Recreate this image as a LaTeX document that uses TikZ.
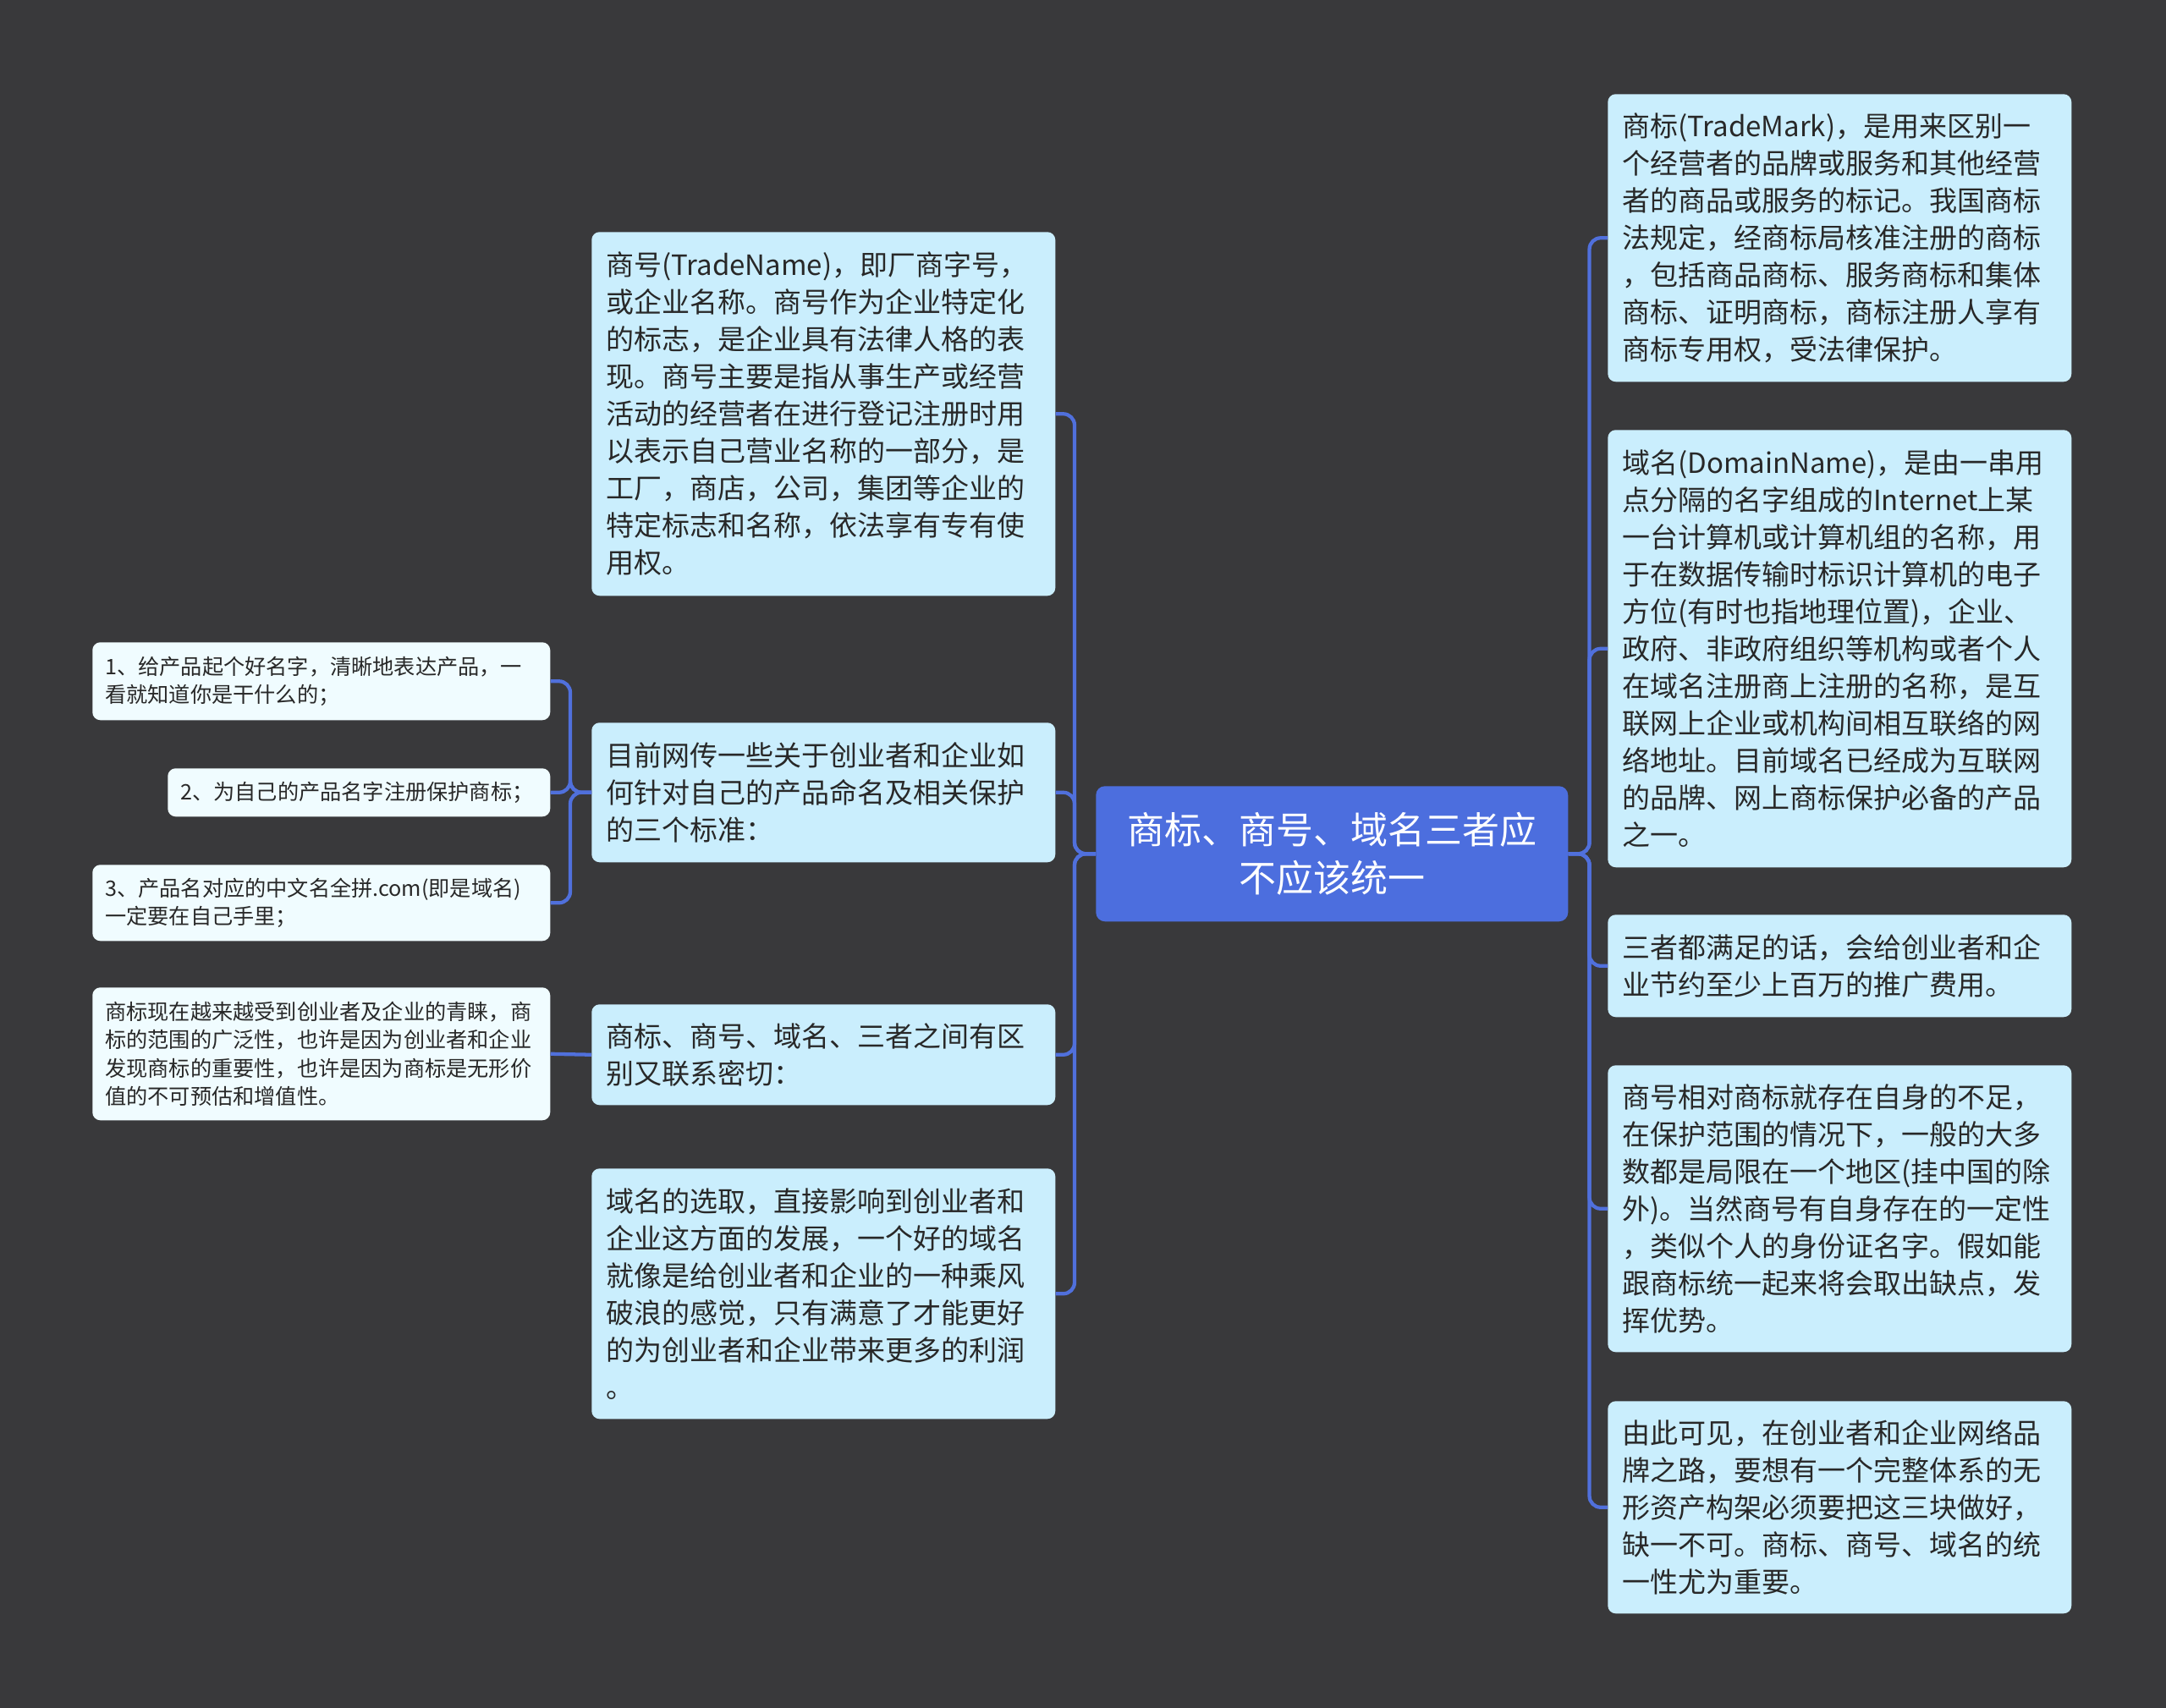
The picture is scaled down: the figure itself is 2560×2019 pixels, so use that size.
\documentclass[tikz,border=0pt]{standalone}
\usepackage{fontspec}
\setmainfont{Noto Sans CJK SC}
\definecolor{bg}{RGB}{57,57,59}
\definecolor{cfill}{RGB}{76,110,222}
\definecolor{lfill}{RGB}{202,238,253}
\definecolor{wfill}{RGB}{240,252,255}
\definecolor{conncol}{RGB}{80,112,220}
\definecolor{txt}{RGB}{40,40,40}
\tikzset{
  conn/.style={draw=conncol, line width=3.2pt, rounded corners=10pt},
  bigbox/.style={rectangle, rounded corners=7pt, fill=lfill, anchor=north west, inner xsep=12.75pt, inner ysep=0pt,
    minimum width=411pt, text width=385.5pt, align=left, text=txt, font=\fontsize{24.75pt}{33pt}\selectfont},
  smallbox/.style={rectangle, rounded corners=7pt, fill=wfill, anchor=north west, inner xsep=11.25pt, inner ysep=0pt,
    minimum width=405.75pt, text width=383.25pt, align=left, text=txt, font=\fontsize{18.9pt}{24.9pt}\selectfont},
  centerbox/.style={rectangle, rounded corners=8pt, fill=cfill, anchor=north west, inner sep=0pt,
    minimum width=418.5pt, minimum height=120pt, align=center, text=white, font=\fontsize{33pt}{43pt}\selectfont}
}
\begin{document}
\begin{tikzpicture}[x=0.75pt, y=-0.75pt]
\useasboundingbox (0,0) rectangle (2560,2019);
\fill[bg] (0,0) rectangle (2560,2019);

% central
\node[centerbox] (c) at (1295,929) {商标、商号、域名三者应\\不应该统一};

% left level 1
\node[bigbox, minimum height=322.5pt] (L1) at (699,274) {商号(TradeName)，即厂商字号，\\或企业名称。商号作为企业特定化\\的标志，是企业具有法律人格的表\\现。商号主要是指从事生产或经营\\活动的经营者在进行登记注册时用\\以表示自己营业名称的一部分，是\\工厂，商店，公司，集团等企业的\\特定标志和名称，依法享有专有使\\用权。};
\node[bigbox, minimum height=123.75pt] (L2) at (699,854) {目前网传一些关于创业者和企业如\\何针对自己的产品命名及相关保护\\的三个标准：};
\node[bigbox, minimum height=89.25pt] (L3) at (699,1187) {商标、商号、域名、三者之间有区\\别又联系密切：};
\node[bigbox, minimum height=222pt] (L4) at (699,1381) {域名的选取，直接影响到创业者和\\企业这方面的发展，一个好的域名\\就像是给创业者和企业的一种乘风\\破浪的感觉，只有满意了才能更好\\的为创业者和企业带来更多的利润\\。};

% left level 2
\node[smallbox, minimum height=69pt] (n1) at (109,759) {1、给产品起个好名字，清晰地表达产品，一\\看就知道你是干什么的；};
\node[smallbox, minimum width=339pt, text width=316.5pt, minimum height=42.75pt] (n2) at (198,908) {2、为自己的产品名字注册保护商标；};
\node[smallbox, minimum height=67.5pt] (n3) at (109,1022) {3、产品名对应的中文名全拼.com(即是域名)\\一定要在自己手里；};
\node[smallbox, minimum height=117.75pt] (n4) at (109,1167) {商标现在越来越受到创业者及企业的青睐，商\\标的范围的广泛性，也许是因为创业者和企业\\发现商标的重要性，也许是因为商标是无形价\\值的不可预估和增值性。};

% right
\node[bigbox, minimum height=255pt] (R1) at (1900,111) {商标(TradeMark)，是用来区别一\\个经营者的品牌或服务和其他经营\\者的商品或服务的标记。我国商标\\法规定，经商标局核准注册的商标\\，包括商品商标、服务商标和集体\\商标、证明商标，商标注册人享有\\商标专用权，受法律保护。};
\node[bigbox, minimum height=387.75pt] (R2) at (1900,508) {域名(DomainName)，是由一串用\\点分隔的名字组成的Internet上某\\一台计算机或计算机组的名称，用\\于在数据传输时标识计算机的电子\\方位(有时也指地理位置)，企业、\\政府、非政府组织等机构或者个人\\在域名注册商上注册的名称，是互\\联网上企业或机构间相互联络的网\\络地址。目前域名已经成为互联网\\的品牌、网上商标保护必备的产品\\之一。};
\node[bigbox, minimum height=90.75pt] (R3) at (1900,1081) {三者都满足的话，会给创业者和企\\业节约至少上百万的推广费用。};
\node[bigbox, minimum height=254.25pt] (R4) at (1900,1259) {商号相对商标就存在自身的不足，\\在保护范围的情况下，一般的大多\\数都是局限在一个地区(挂中国的除\\外)。当然商号有自身存在的一定性\\，类似个人的身份证名字。假如能\\跟商标统一起来将会取出缺点，发\\挥优势。};
\node[bigbox, minimum height=188.25pt] (R5) at (1900,1656) {由此可见，在创业者和企业网络品\\牌之路，要想有一个完整体系的无\\形资产构架必须要把这三块做好，\\缺一不可。商标、商号、域名的统\\一性尤为重要。};

% connectors
\foreach \t in {L1,L2,L3,L4}{
  \draw[conn] (c.west) -- ++(-25,0) |- (\t.east);
}
\foreach \t in {R1,R2,R3,R4,R5}{
  \draw[conn] (c.east) -- ++(25,0) |- (\t.west);
}
\foreach \t in {n1,n2,n3}{
  \draw[conn] (L2.west) -- ++(-25,0) |- (\t.east);
}
\draw[conn] (L3.west) -- (n4.east);
\end{tikzpicture}
\end{document}
